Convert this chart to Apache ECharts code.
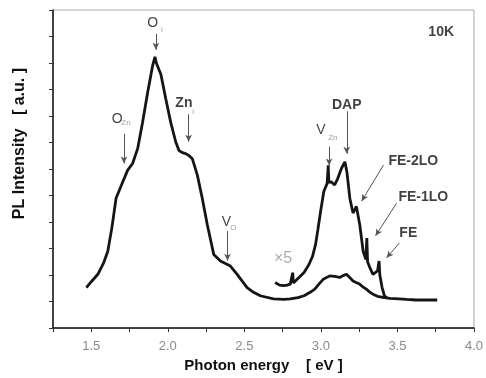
<!DOCTYPE html>
<html><head><meta charset="utf-8">
<script src="https://cdn.jsdelivr.net/npm/echarts@6/dist/echarts.min.js"></script>
<style>html,body{margin:0;padding:0;background:#fff}#c{width:486px;height:378px}</style>
</head><body><div id="c"></div>
<script>
// Main spectrum (photon energy eV, intensity a.u.)
const mainEnergy = [1.468,1.50,1.543,1.58,1.608,1.635,1.662,1.706,1.738,1.77,1.803,1.835,1.868,1.90,1.916,1.925,1.933,1.955,1.987,2.019,2.052,2.073,2.095,2.117,2.14,2.160,2.193,2.225,2.258,2.30,2.344,2.409,2.453,2.518,2.56,2.604,2.69,2.76,2.80,2.85,2.89,2.93,2.96,2.99,3.015,3.058,3.09,3.123,3.145,3.167,3.19,3.21,3.23,3.253,3.275,3.297,3.32,3.34,3.37,3.405,3.45,3.51,3.56,3.62,3.70,3.76];
const mainIntensity = [1.53,1.75,2.03,2.45,2.90,3.8,4.90,5.52,5.96,6.21,6.77,7.76,8.88,9.88,10.23,10.0,10.07,9.57,8.64,7.76,7.02,6.70,6.62,6.58,6.50,6.39,5.77,4.90,3.90,2.78,2.53,2.34,2.03,1.53,1.35,1.22,1.10,1.08,1.10,1.15,1.22,1.35,1.47,1.68,1.84,1.97,1.95,1.91,1.98,2.03,1.90,1.78,1.72,1.66,1.55,1.47,1.35,1.28,1.20,1.16,1.12,1.10,1.08,1.06,1.06,1.06];
// x5 magnified spectrum
const x5Energy = [2.701,2.73,2.755,2.78,2.80,2.816,2.82,2.857,2.89,2.922,2.945,2.965,2.98,2.998,3.019,3.041,3.048,3.052,3.067,3.09,3.11,3.134,3.157,3.17,3.189,3.21,3.232,3.254,3.276,3.294,3.30,3.305,3.32,3.34,3.37,3.38,3.385,3.40,3.415,3.43];
const x5Intensity = [1.72,1.62,1.60,1.62,1.66,2.09,1.70,1.91,2.1,2.40,2.7,3.15,3.7,4.40,5.15,5.46,6.14,5.5,5.52,5.40,5.64,6.02,6.27,5.89,4.90,4.34,4.59,3.90,2.90,2.59,3.40,2.5,2.28,2.03,2.16,2.53,2.0,1.53,1.22,1.14];
// x axis ticks
const xMin = 1.25, xMax = 4.0, xStep = 0.25;
const xLabelValues = [1.5,2.0,2.5,3.0,3.5,4.0];
// annotations: text, energy, intensity
const labelTexts = ['O','O','Zn','V','V','DAP','FE-2LO','FE-1LO','FE','\u00d75','10K'];
const labelX = [1.902,1.669,2.105,2.383,3.0,3.169,3.604,3.669,3.571,2.753,3.786];
const labelY = [11.5,7.89,8.49,4.0,7.48,8.41,6.28,4.93,3.59,2.62,11.18];
const subTexts = ['i','Zn','i','O','Zn'];
const subX = [1.961,1.727,2.165,2.429,3.078];
const subY = [11.25,7.74,8.15,3.78,7.18];
// arrows: start/end
const arrowX1 = [1.922,1.714,2.136,2.39,3.054,3.169,3.409,3.494,3.513];
const arrowY1 = [11.1,7.33,8.07,3.66,6.84,8.18,6.15,4.71,3.21];
const arrowX2 = [1.922,1.714,2.136,2.39,3.054,3.169,3.266,3.357,3.429];
const arrowY2 = [10.5,6.21,7.03,2.54,6.13,6.58,4.79,3.48,2.65];

const chart = echarts.init(document.getElementById('c'));
const zip = (a,b)=>a.map((v,i)=>[v,b[i]]);
const labelData = labelTexts.map((t,i)=>{
  const big = (t==='O'||t==='V');
  const gray = t==='\u00d75';
  return {value:[labelX[i],labelY[i]], label:{formatter:t,
    fontSize: big?14:(gray?16:14), fontWeight: (big||gray)?'normal':'bold',
    color: gray?'#999':'#111'}};
});
const subData = subTexts.map((t,i)=>({value:[subX[i],subY[i]], label:{formatter:t}}));
const arrows = arrowX1.map((v,i)=>[{coord:[v,arrowY1[i]]},{coord:[arrowX2[i],arrowY2[i]]}]);

chart.setOption({
  animation:false,
  backgroundColor:'#fff',
  grid:{left:53,right:11,top:10,bottom:47,show:true,borderColor:'#aaa',borderWidth:1},
  xAxis:{type:'value',min:xMin,max:xMax,interval:xStep,
    axisLine:{show:true,lineStyle:{color:'#111',width:1.5}},
    axisTick:{show:true,inside:false,length:4,lineStyle:{color:'#333'}},
    splitLine:{show:false},
    axisLabel:{color:'#8a8a8a',fontSize:13,fontFamily:'Liberation Sans',margin:12,
      formatter:v=>xLabelValues.some(x=>Math.abs(x-v)<1e-6)?v.toFixed(1):''},
    name:'Photon energy    [ eV ]',nameLocation:'middle',nameGap:27,
    nameTextStyle:{color:'#111',fontWeight:'bold',fontSize:15,fontFamily:'Liberation Sans'}},
  yAxis:{type:'value',min:0,max:12,interval:1,
    axisLine:{show:true,lineStyle:{color:'#111',width:1.5}},
    axisTick:{show:true,inside:false,length:4,lineStyle:{color:'#333'}},
    axisLabel:{show:false},splitLine:{show:false}},
  graphic:[{type:'text',left:12,top:68,rotation:Math.PI/2,
    style:{text:'PL Intensity   [ a.u. ]',fill:'#111',font:'bold 16px "Liberation Sans"'}}],
  series:[
    {type:'line',data:zip(mainEnergy,mainIntensity),showSymbol:false,smooth:false,
      lineStyle:{color:'#151515',width:2.8},z:3,
      markLine:{silent:true,symbol:['none','arrow'],symbolSize:[5,7],
        lineStyle:{color:'#555',width:1,type:'solid'},label:{show:false},data:arrows}},
    {type:'line',data:zip(x5Energy,x5Intensity),showSymbol:false,
      lineStyle:{color:'#151515',width:2.8},z:3},
    {type:'scatter',data:labelData,symbolSize:0,
      label:{show:true,position:'inside',fontFamily:'Liberation Sans'},z:5},
    {type:'scatter',data:subData,symbolSize:0,
      label:{show:true,position:'inside',fontFamily:'Liberation Sans',fontSize:8,color:'#888'},z:5}
  ]
});
</script></body></html>
